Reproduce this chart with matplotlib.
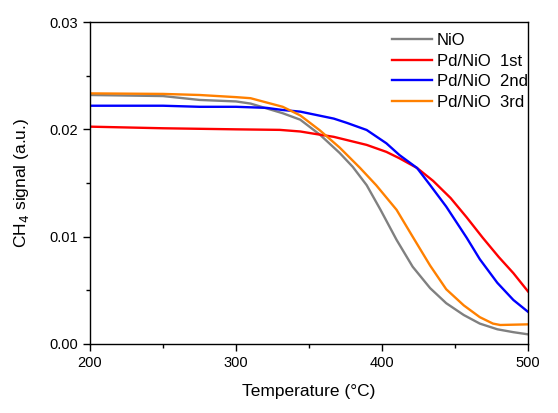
import matplotlib
matplotlib.use("Agg")
import matplotlib.pyplot as plt
from matplotlib.ticker import MultipleLocator, FormatStrFormatter

plt.rcParams['font.family'] = ['Liberation Sans', 'DejaVu Sans']

# Temperature (°C) and CH4 signal (a.u.)
t_nio = [200, 250, 275, 300, 310, 332, 344, 357.5, 371, 380, 389.5, 399, 410, 421, 433, 444, 456, 467, 479, 490, 500]
v_nio = [0.0232, 0.0231, 0.02274, 0.0226, 0.0224, 0.0215, 0.0209, 0.0195, 0.0178, 0.0165, 0.0148, 0.0125,
         0.0097, 0.0072, 0.0052, 0.0038, 0.0027, 0.0019, 0.00137, 0.0011, 0.0009]

t_1st = [200, 250, 300, 330, 344, 353, 367, 376, 389.5, 403, 412, 424, 435, 447, 458, 469, 480, 490, 500]
v_1st = [0.02025, 0.0201, 0.0200, 0.01995, 0.0198, 0.0196, 0.0193, 0.0190, 0.01855, 0.0179, 0.0173,
         0.0164, 0.0152, 0.0136, 0.0118, 0.0099, 0.0081, 0.0066, 0.0049]

t_2nd = [200, 250, 275, 300, 321, 332, 344, 367, 376, 389.5, 403, 412, 424, 433, 444, 458, 467, 479, 490, 500]
v_2nd = [0.0222, 0.0222, 0.0221, 0.0221, 0.0220, 0.0218, 0.02165, 0.0210, 0.0206, 0.01994, 0.0187, 0.0176,
         0.0164, 0.0148, 0.0128, 0.0099, 0.0079, 0.0057, 0.0041, 0.0030]

t_3rd = [200, 250, 275, 300, 310, 332, 344, 357.5, 371, 385, 396, 410, 421, 433, 444, 456, 467, 476, 481, 500]
v_3rd = [0.02335, 0.0233, 0.0232, 0.0230, 0.0229, 0.0221, 0.0213, 0.0199, 0.0183, 0.0164, 0.0148, 0.0125,
         0.0100, 0.0073, 0.0051, 0.0036, 0.0025, 0.0019, 0.00177, 0.00183]

labels = ['NiO', 'Pd/NiO  1st', 'Pd/NiO  2nd', 'Pd/NiO  3rd']
colors = ['#808080', '#ff0000', '#0000ff', '#ff8000']

fig = plt.figure(figsize=(5.58, 4.13), dpi=100)
ax = fig.add_axes([0.1613, 0.1671, 0.9462 - 0.1613, 0.9467 - 0.1671])

series = [(t_nio, v_nio), (t_1st, v_1st), (t_2nd, v_2nd), (t_3rd, v_3rd)]
for (t, v), lab, c in zip(series, labels, colors):
    ax.plot(t, v, color=c, lw=1.7, label=lab, solid_joinstyle='round')

ax.set_xlim(200, 500)
ax.set_ylim(0, 0.03)
ax.xaxis.set_major_locator(MultipleLocator(100))
ax.xaxis.set_minor_locator(MultipleLocator(50))
ax.yaxis.set_major_locator(MultipleLocator(0.01))
ax.yaxis.set_minor_locator(MultipleLocator(0.005))
ax.yaxis.set_major_formatter(FormatStrFormatter('%.2f'))
ax.tick_params(which='both', direction='out', top=False, right=False, labelsize=10.5, width=1)
ax.tick_params(which='major', length=5)
ax.tick_params(which='minor', length=3)
for s in ax.spines.values():
    s.set_linewidth(1.0)

ax.set_xlabel('Temperature (°C)', fontsize=12.5, labelpad=10)
ax.set_ylabel('CH$_4$ signal (a.u.)', fontsize=12.5, labelpad=13)

ax.legend(loc='upper right', bbox_to_anchor=(1.0, 0.965), frameon=False, fontsize=12,
          handlelength=2.4, handletextpad=0.3, labelspacing=0.33, borderpad=0, borderaxespad=0)

fig.savefig('out.png', dpi=100)
